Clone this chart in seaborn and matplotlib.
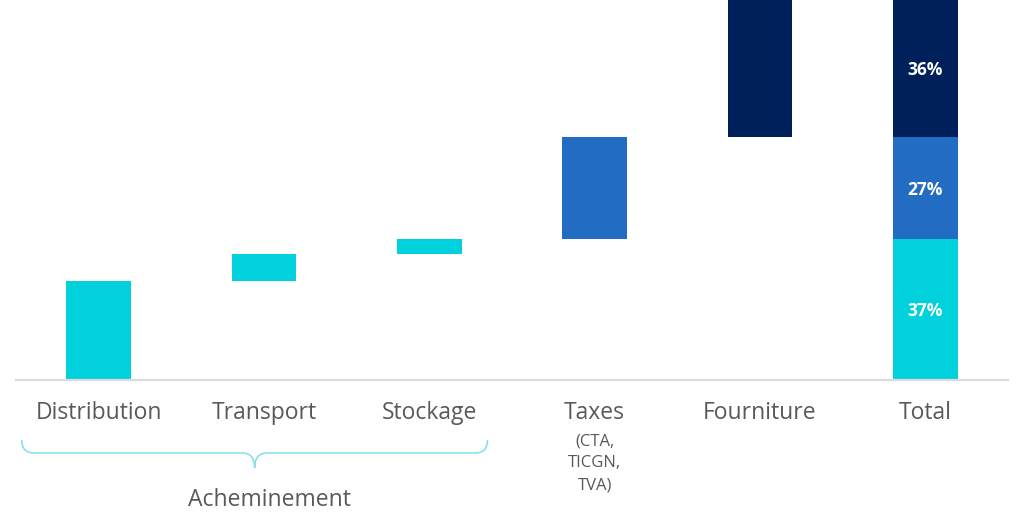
import numpy as np
import pandas as pd
import matplotlib.pyplot as plt
import seaborn as sns
from matplotlib.path import Path
from matplotlib.patches import PathPatch
from matplotlib.transforms import blended_transform_factory

# Data (share of the bill, in %)
categories = ["Distribution", "Transport", "Stockage", "Taxes", "Fourniture", "Total"]
steps = [26, 7, 4, 27, 36]
step_group = ["ach", "ach", "ach", "tax", "fou"]
total_groups = ["ach", "tax", "fou"]
total_shares = [37, 27, 36]
total_labels = ["37%", "27%", "36%"]
taxes_detail = "(CTA,\nTICGN,\nTVA)"
brace_label = "Acheminement"

colors = {"ach": "#00D1DC", "tax": "#226DC3", "fou": "#00205B"}
text_grey = "#595959"

sns.set_style("white")
plt.rcParams['font.family'] = ['Open Sans', 'DejaVu Sans']

# waterfall: each step starts where the previous one ended
ends = np.cumsum(steps)
starts = ends - np.array(steps)
tot_ends = np.cumsum(total_shares)
tot_starts = tot_ends - np.array(total_shares)

rows = []
for c, g, s, h in zip(categories[:-1], step_group, starts, steps):
    rows.append(dict(cat=c, grp=g, bottom=s, height=h))
for g, s, h in zip(total_groups, tot_starts, total_shares):
    rows.append(dict(cat="Total", grp=g, bottom=s, height=h))
df = pd.DataFrame(rows)

fig = plt.figure(figsize=(10.24, 5.26), dpi=100)
ax = fig.add_axes([16 / 1024, 1 - 379.5 / 526, 992 / 1024, 379.5 / 526])

for g in total_groups:
    sub = df[df["grp"] == g]
    sns.barplot(data=sub, x="cat", y="height", order=categories, bottom=sub["bottom"].values,
                color=colors[g], saturation=1, width=0.393, linewidth=0, errorbar=None, ax=ax)

ax.set_ylim(0, 100)
ax.set_xlim(-0.5, len(categories) - 0.5)
ax.set_xlabel("")
ax.set_ylabel("")
ax.set_yticks([])
ax.set_xticks(range(len(categories)))
ax.set_xticklabels(categories)
ax.tick_params(axis='x', length=0, pad=15.5, labelsize=16.5, labelcolor=text_grey)
sns.despine(ax=ax, left=True)
ax.spines['bottom'].set_color("#DADADA")
ax.spines['bottom'].set_linewidth(1.6)

# labels inside the total bar
for s, h, lab in zip(tot_starts, total_shares, total_labels):
    ax.text(len(categories) - 1, s + h / 2, lab, ha='center', va='center_baseline',
            color='white', fontsize=12.5, fontweight='bold')

# stuff under the axis: x in data units, y in figure fraction
trans = blended_transform_factory(ax.transData, fig.transFigure)
fy = lambda p: 1 - p / 526

ax.text(categories.index("Taxes"), fy(433), taxes_detail, transform=trans, ha='center', va='top',
        fontsize=12, linespacing=1.5, color=text_grey)

# curly brace under the three "acheminement" steps
x0, x1 = -0.465, 2.352
xm = (x0 + x1) / 2
r = 0.075
verts = [(x0, fy(440)),
         (x0, fy(453)), (x0 + r, fy(453)),
         (xm - r, fy(453)),
         (xm, fy(453)), (xm, fy(468)),
         (xm, fy(453)), (xm + r, fy(453)),
         (x1 - r, fy(453)),
         (x1, fy(453)), (x1, fy(440))]
codes = [Path.MOVETO, Path.CURVE3, Path.CURVE3, Path.LINETO, Path.CURVE3, Path.CURVE3,
         Path.CURVE3, Path.CURVE3, Path.LINETO, Path.CURVE3, Path.CURVE3]
brace = PathPatch(Path(verts, codes), transform=trans, fill=False, edgecolor="#7FDFE8",
                  linewidth=1.1, clip_on=False)
ax.add_patch(brace)

ax.text(1.03, fy(500), brace_label, transform=trans, ha='center', va='center',
        fontsize=16.5, color=text_grey)

plt.savefig("out.png", dpi=100)
